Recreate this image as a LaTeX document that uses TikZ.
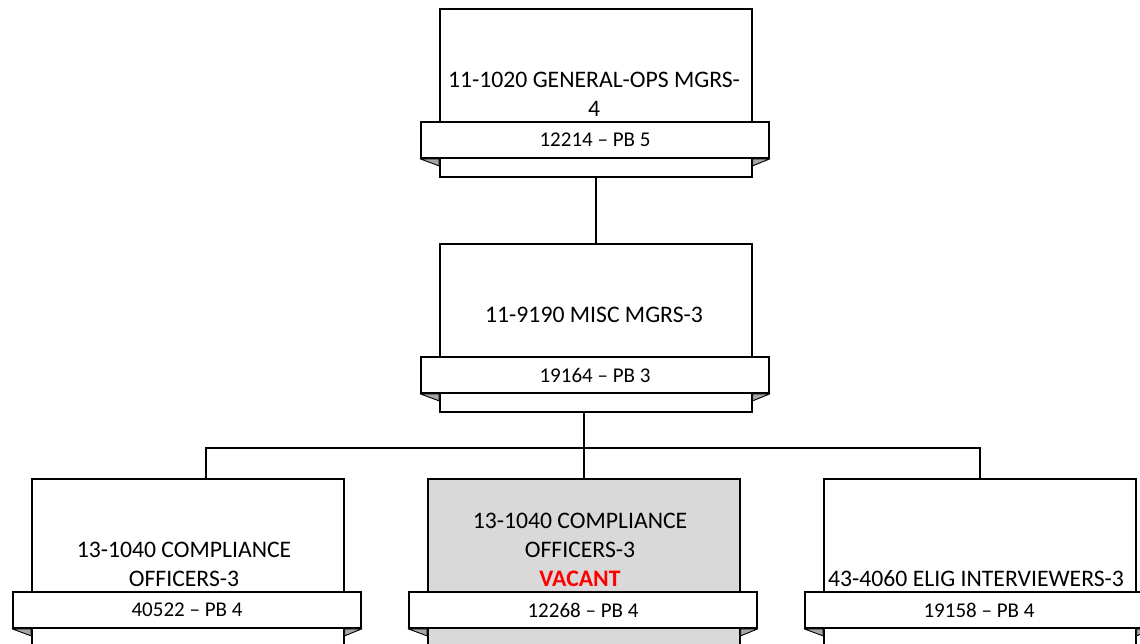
\documentclass[tikz,border=0pt]{standalone}
\usepackage{fontspec}
\setmainfont{Carlito}
\definecolor{vacgray}{HTML}{D9D9D9}
\definecolor{foldgray}{HTML}{A6A6A6}
\definecolor{vacred}{HTML}{FF0000}
\begin{document}
\begin{tikzpicture}[x=1pt,y=-1pt]
\tikzset{
  posbox/.style={draw, line width=1.7pt, minimum width=312pt, minimum height=168pt, inner sep=0pt, anchor=north west},
  ribbon/.style={draw, fill=white, line width=1.7pt, minimum width=348pt, minimum height=36pt, inner sep=0pt, font=\fontsize{21}{24}\selectfont},
  title/.style={align=center, font=\fontsize{23.7}{29}\selectfont, inner sep=0pt},
  fold/.style={fill=foldgray, draw=black, line width=0.9pt, line join=round},
  link/.style={line width=1.7pt}
}
\clip (0,0) rectangle (1140,644);
\fill[white] (0,0) rectangle (1140,644);

% boxes
\node[posbox] (b1) at (439,8) {};
\node[posbox] (b2) at (439,243) {};
\node[posbox] (b3) at (31,478) {};
\node[posbox, fill=vacgray] (b4) at (427,478) {};
\node[posbox] (b5) at (823,478) {};

% titles
\node[title] (t1) at (594,94) {11-1020 GENERAL-OPS MGRS-\\4};
\node[title] (t2) at (594,315) {11-9190 MISC MGRS-3};
\node[title] (t3) at (184,564.5) {13-1040 COMPLIANCE\\OFFICERS-3};
\node[title] (t4) at (580,550) {13-1040 COMPLIANCE\\OFFICERS-3\\{\bfseries\color{vacred}VACANT}};
\node[title] (t5) at (976,579) {43-4060 ELIG INTERVIEWERS-3};

% ribbons
\node[ribbon] (r1) at (595,140) {12214 – PB 5};
\node[ribbon] (r2) at (595,375) {19164 – PB 3};
\node[ribbon] (r3) at (187,610) {40522 – PB 4};
\node[ribbon] (r4) at (583,610) {12268 – PB 4};
\node[ribbon] (r5) at (979,610) {19158 – PB 4};

% folds
\foreach \b/\r in {b1/r1,b2/r2,b3/r3,b4/r4,b5/r5}{
  \draw[fold] (\r.south west) -- (\r.south west -| \b.west) -- ([yshift=-7pt]\r.south west -| \b.west) -- cycle;
  \draw[fold] (\r.south east) -- (\r.south east -| \b.east) -- ([yshift=-7pt]\r.south east -| \b.east) -- cycle;
}

% connectors
\coordinate (bus) at (583,448);
\draw[link] (b1.south) -- (b2.north);
\draw[link] (b2.south -| b4.north) -- (b4.north);
\draw[link] ([xshift=18pt]b3.north) |- (bus) -| (b5.north);
\end{tikzpicture}
\end{document}
